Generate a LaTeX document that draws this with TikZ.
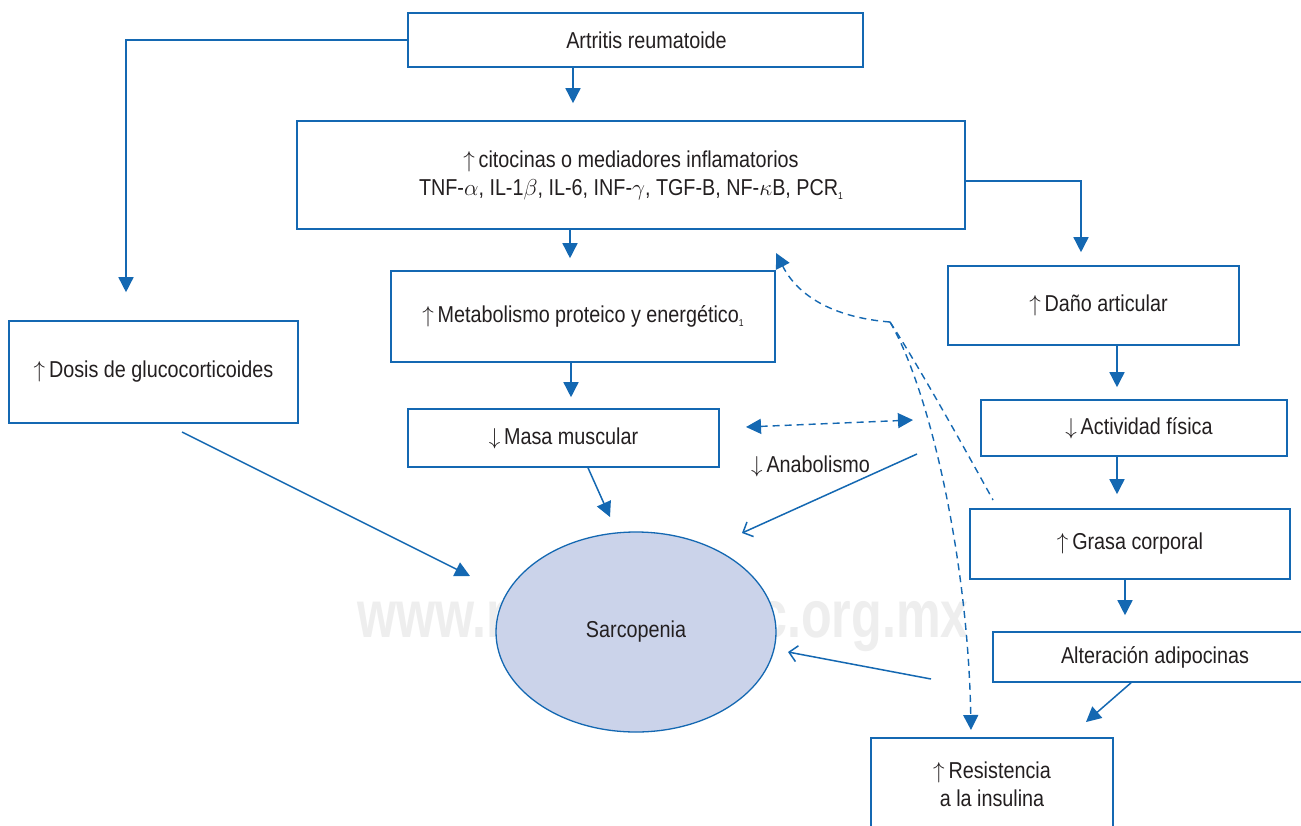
\documentclass[tikz,border=0pt]{standalone}
\usepackage{fix-cm}
\usepackage{fontspec}
\setmainfont{Liberation Sans}[FakeStretch=0.86]
\newfontfamily\wmfont{Liberation Sans}[FakeStretch=0.75]
\usetikzlibrary{arrows.meta,calc,shapes.geometric}
\definecolor{lineblue}{RGB}{20,104,178}
\definecolor{txt}{RGB}{35,31,32}
\definecolor{sarfill}{RGB}{203,211,234}
\definecolor{wm}{RGB}{238,238,238}
\newcommand\subone{\raisebox{-4pt}{\fontsize{10}{10}\selectfont 1}}
\newcommand\up{$\uparrow$\,}
\newcommand\dn{$\downarrow$\,}
\begin{document}
\begin{tikzpicture}[x=1pt,y=-1pt, font=\fontsize{23}{28}\selectfont, text=txt,
 box/.style={draw=lineblue, line width=1.6pt, rectangle, inner sep=0pt, align=center},
 arr/.style={draw=lineblue, line width=1.5pt, -{Triangle[length=15pt,width=15pt]}},
 oarr/.style={draw=lineblue, line width=1.5pt, -{Straight Barb[length=8pt,width=16pt]}},
 dsh/.style={draw=lineblue, line width=1.4pt, dash pattern=on 7pt off 5pt},
 wmark/.style={inner sep=0pt, text=wm, font=\wmfont\bfseries\fontsize{67}{67}\selectfont},
]
\clip (0,0) rectangle (1301,825);
\fill[white] (0,0) rectangle (1301,825);

% watermark (its middle lies under the ellipse)
\node[wmark, anchor=base west] (wmk1) at (357,637) {www.me};
\node[wmark, anchor=base west] (wmk2) at (759,637) {c.org.mx};

% boxes
\node[box, minimum width=455pt, minimum height=54pt] (art) at (635.5,40) {\hspace*{22pt}Artritis reumatoide};
\node[box, minimum width=668pt, minimum height=108pt] (cit) at (631,175) {\up citocinas o mediadores inflamatorios\\TNF-$\alpha$, IL-1$\beta$, IL-6, INF-$\gamma$, TGF-B, NF-$\kappa$B, PCR\subone};
\node[box, minimum width=384pt, minimum height=91pt] (met) at (583,316.5) {\up Metabolismo proteico y energético\subone};
\node[box, minimum width=311pt, minimum height=58pt] (masa) at (563.5,438) {\dn Masa muscular};
\node[box, minimum width=289pt, minimum height=102pt] (dos) at (153.5,372) {\up Dosis de glucocorticoides};
\node[box, minimum width=291pt, minimum height=79pt] (dano) at (1093.5,305.5) {\hspace*{10pt}\up Daño articular};
\node[box, minimum width=306pt, minimum height=56pt] (act) at (1134,428) {\hspace*{10pt}\dn Actividad física};
\node[box, minimum width=320pt, minimum height=70pt] (gra) at (1130,544) {\up Grasa corporal};
\node[box, minimum width=324pt, minimum height=50pt] (alt) at (1155,657) {Alteración adipocinas};
\node[box, minimum width=242pt, minimum height=92pt] (res) at (992,784) {\up Resistencia\\a la insulina};
\node[ellipse, draw=lineblue, line width=1.3pt, fill=sarfill, minimum width=280pt, minimum height=200pt, inner sep=0pt] (sar) at (636,632) {Sarcopenia};
\node[anchor=base west, inner sep=0pt] (anab) at (751,472) {\dn Anabolismo};

% helper coordinates
\coordinate (xa) at (573,0);
\coordinate (xd) at (126,0);
\coordinate (xm) at (570,0);
\coordinate (yc) at (0,181);
\coordinate (xdn) at (1081,0);
\coordinate (xmm) at (571,0);
\coordinate (xs) at (588,0);
\coordinate (s1) at (610,517);
\coordinate (d1) at (182,432);
\coordinate (s2) at (470,576);
\coordinate (xr) at (1117,0);
\coordinate (xg) at (1125,0);
\coordinate (xal) at (1131,0);
\coordinate (r1) at (1086,722);
\coordinate (an1) at (917,454);
\coordinate (s3) at (742,533);
\coordinate (al1) at (931,679);
\coordinate (s4) at (788,652);
\coordinate (m1) at (746,427);
\coordinate (m2) at (913,420);
\coordinate (j) at (890,322);
\coordinate (c1) at (776,253);
\coordinate (r2) at (971,730);
\coordinate (g1) at (993,500);

% solid connectors
\draw[arr, shorten >=17pt] (art.south -| xa) -- (cit.north -| xa);
\draw[arr, shorten >=28pt] (art.west) -| (dos.north -| xd);
\draw[arr, shorten >=12pt] (cit.south -| xm) -- (met.north -| xm);
\draw[arr, shorten >=13pt] (cit.east |- yc) -| (dano.north -| xdn);
\draw[arr, shorten >=11pt] (met.south -| xmm) -- (masa.north -| xmm);
\draw[arr] (masa.south -| xs) -- (s1);
\draw[arr] (d1) -- (s2);
\draw[arr, shorten >=12pt] (dano.south -| xr) -- (act.north -| xr);
\draw[arr, shorten >=14pt] (act.south -| xr) -- (gra.north -| xr);
\draw[arr, shorten >=16pt] (gra.south -| xg) -- (alt.north -| xg);
\draw[arr] (alt.south -| xal) -- (r1);
\draw[oarr] (an1) -- (s3);
\draw[oarr] (al1) -- (s4);

% dashed connectors
\draw[dsh, {Triangle[length=15pt,width=15pt]}-{Triangle[length=15pt,width=15pt]}] (m1) -- (m2);
\draw[dsh, -{Triangle[length=15pt,width=15pt]}] (j) .. controls (840,318) and (800,300) .. (c1);
\draw[dsh, -{Triangle[length=15pt,width=15pt]}] (j) .. controls (930,390) and (968,560) .. (r2);
\draw[dsh] (j) .. controls (915,360) and (960,440) .. (g1);
\end{tikzpicture}
\end{document}
